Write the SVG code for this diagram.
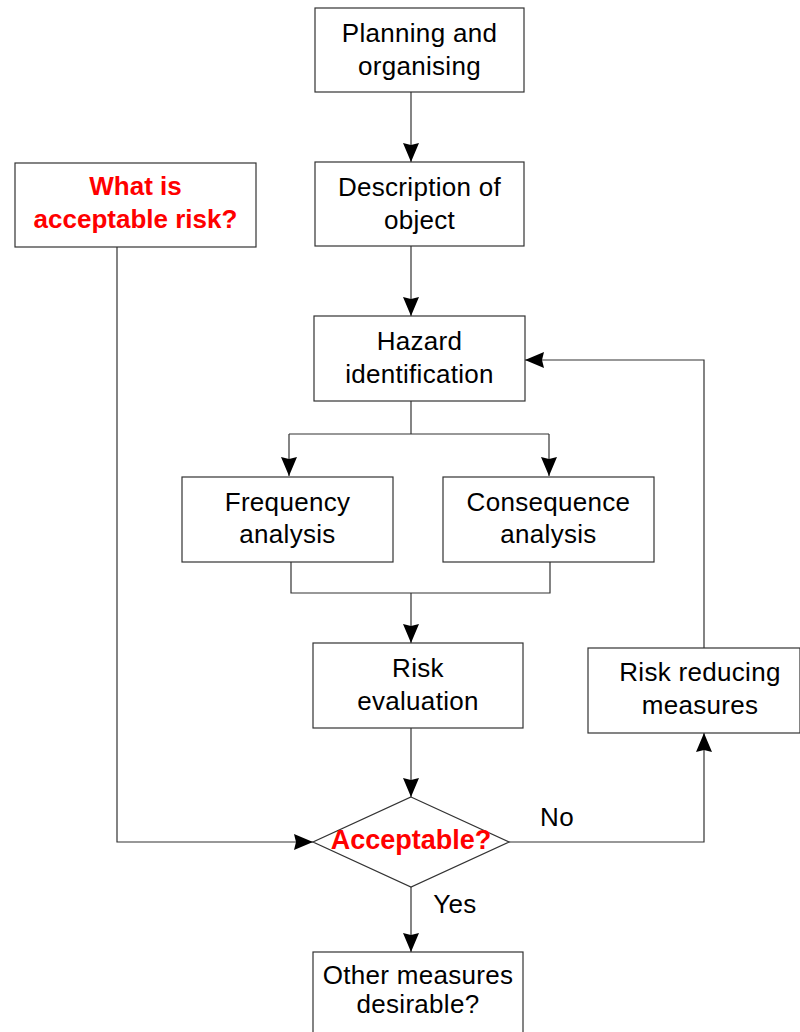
<svg xmlns="http://www.w3.org/2000/svg" width="800" height="1032" viewBox="0 0 800 1032">
<style>
.box{fill:#fff;stroke:#333;stroke-width:1.2}
.t{font-family:"Liberation Sans",Arial,sans-serif;font-size:26px;letter-spacing:0.3px;fill:#000;text-anchor:middle}
.r{font-family:"Liberation Sans",Arial,sans-serif;font-size:26px;font-weight:bold;fill:#f00;text-anchor:middle}
.c{fill:none;stroke:#333;stroke-width:1.2}
</style>
<defs>
<marker id="ah" viewBox="0 0 19 18" refX="19" refY="9" markerWidth="19" markerHeight="18" markerUnits="userSpaceOnUse" orient="auto">
<path d="M0,1 L19,9 L0,17 L2,9 Z" fill="#000"/>
</marker>
</defs>
<rect width="800" height="1032" fill="#fff"/>
<g id="connectors">
<path class="c" d="M411,92 V162" marker-end="url(#ah)"/>
<path class="c" d="M411,246 V316" marker-end="url(#ah)"/>
<path class="c" d="M411,401 V434"/>
<path class="c" d="M289,434 H549"/>
<path class="c" d="M289,434 V476" marker-end="url(#ah)"/>
<path class="c" d="M549,434 V476" marker-end="url(#ah)"/>
<path class="c" d="M291,562 V593 H550 V562"/>
<path class="c" d="M411,593 V643" marker-end="url(#ah)"/>
<path class="c" d="M411,728 V797" marker-end="url(#ah)"/>
<path class="c" d="M117,247 V842 H313" marker-end="url(#ah)"/>
<path class="c" d="M411,887 V952" marker-end="url(#ah)"/>
<path class="c" d="M509,842 H704 V733" marker-end="url(#ah)"/>
<path class="c" d="M704,648 V360 H525" marker-end="url(#ah)"/>
</g>
<g id="planning">
<rect class="box" x="315" y="8" width="209" height="84"/>
<text class="t" x="419.5" y="42">Planning and</text>
<text class="t" x="419.5" y="75">organising</text>
</g>
<g id="description">
<rect class="box" x="315" y="162" width="209" height="84"/>
<text class="t" x="419.5" y="196">Description of</text>
<text class="t" x="419.5" y="229">object</text>
</g>
<g id="acceptable-risk">
<rect class="box" x="15" y="163" width="241" height="84"/>
<text class="r" x="135.5" y="195">What is</text>
<text class="r" x="135.5" y="228">acceptable risk?</text>
</g>
<g id="hazard">
<rect class="box" x="314" y="316" width="211" height="85"/>
<text class="t" x="419.5" y="350">Hazard</text>
<text class="t" x="419.5" y="383">identification</text>
</g>
<g id="frequency">
<rect class="box" x="182" y="477" width="211" height="85"/>
<text class="t" x="287.5" y="511">Frequency</text>
<text class="t" x="287.5" y="543">analysis</text>
</g>
<g id="consequence">
<rect class="box" x="443" y="477" width="211" height="85"/>
<text class="t" x="548.5" y="511">Consequence</text>
<text class="t" x="548.5" y="543">analysis</text>
</g>
<g id="risk-evaluation">
<rect class="box" x="313" y="643" width="210" height="85"/>
<text class="t" x="418" y="677">Risk</text>
<text class="t" x="418" y="710">evaluation</text>
</g>
<g id="risk-reducing">
<rect class="box" x="588" y="648" width="212" height="85"/>
<text class="t" x="700" y="681">Risk reducing</text>
<text class="t" x="700" y="714">measures</text>
</g>
<g id="decision">
<path class="box" d="M411,797 L509,842 L411,887 L313,842 Z"/>
<text class="r" x="411" y="849" style="font-size:27px">Acceptable?</text>
</g>
<g id="labels">
<text class="t" x="557" y="826">No</text>
<text class="t" x="455" y="913">Yes</text>
</g>
<g id="other-measures">
<rect class="box" x="313" y="952" width="210" height="90"/>
<text class="t" x="418" y="984">Other measures</text>
<text class="t" x="418" y="1013">desirable?</text>
</g>
</svg>
